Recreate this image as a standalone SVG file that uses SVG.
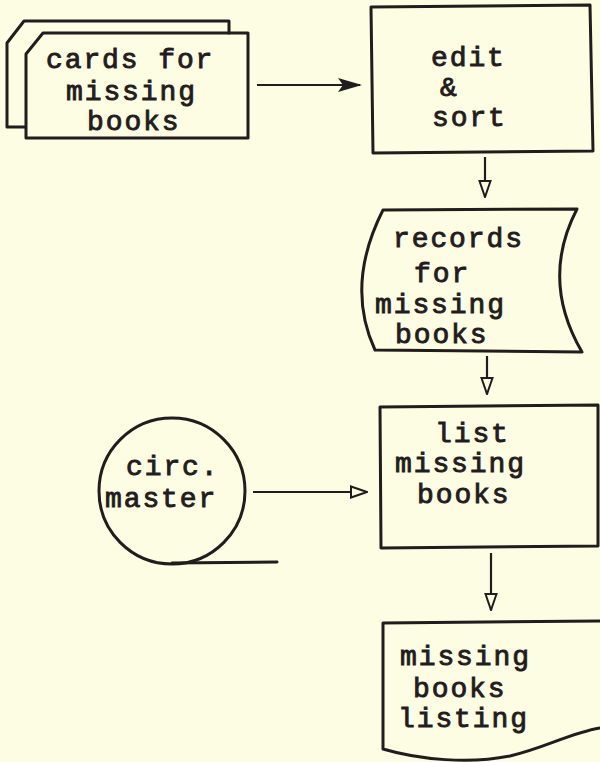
<svg xmlns="http://www.w3.org/2000/svg" width="600" height="762" viewBox="0 0 600 762">
<style>
.s{fill:none;stroke:#231c1c;stroke-width:3;stroke-linejoin:round;stroke-linecap:round}
.c{fill:none;stroke:#231c1c;stroke-width:2.2}
.t{font-family:"Liberation Mono","DejaVu Sans Mono",monospace;font-size:28px;letter-spacing:1.9px;fill:#231c1c;stroke:#231c1c;stroke-width:0.9px;font-weight:normal}
</style>
<defs>
<marker id="filled" viewBox="0 0 24 16" refX="22" refY="8" markerWidth="24" markerHeight="16" markerUnits="userSpaceOnUse" orient="auto">
<path d="M0,1 L24,8 L0,15 L5,8 Z" fill="#231c1c"/>
</marker>
<marker id="open" viewBox="0 0 18 14" refX="17" refY="7" markerWidth="18" markerHeight="14" markerUnits="userSpaceOnUse" orient="auto">
<path d="M1,1.5 L17,7 L1,12.5 Z" fill="#fdfde3" stroke="#231c1c" stroke-width="2"/>
</marker>
</defs>
<rect width="600" height="762" fill="#fdfde3"/>
<g id="cards">
<path class="s" d="M25,127 L7,127 L7,43 L24,21 L229,21 L229,33"/>
<path class="s" d="M26,54 L43,33 L248,33 L248,138 L26,138 Z"/>
<text class="t" x="46" y="68">cards for</text>
<text class="t" x="66" y="100">missing</text>
<text class="t" x="87" y="130">books</text>
</g>
<g id="edit">
<path class="s" d="M371,7 L590,5 L593,151 L373,153 Z"/>
<text class="t" x="431" y="66">edit</text>
<text class="t" x="440" y="96">&amp;</text>
<text class="t" x="432" y="126">sort</text>
</g>
<g id="records">
<path class="s" d="M383,210 L577,209 Q540,280 582,352 L375,350 Q345,285 383,210 Z"/>
<text class="t" x="393" y="247">records</text>
<text class="t" x="414" y="282">for</text>
<text class="t" x="375" y="313">missing</text>
<text class="t" x="395" y="343">books</text>
</g>
<g id="list">
<path class="s" d="M380,407 L598,405 L598,546 L381,548 Z"/>
<text class="t" x="435" y="442">list</text>
<text class="t" x="395" y="472">missing</text>
<text class="t" x="417" y="503">books</text>
</g>
<g id="circ">
<circle class="s" cx="172" cy="491" r="73"/>
<path class="s" d="M172,563 L277,562"/>
<text class="t" x="126" y="475">circ.</text>
<text class="t" x="105" y="507">master</text>
</g>
<g id="listing">
<path class="s" d="M600,621 L383,623 L383,749 C420,760 470,764 510,756 C545,748 570,733 600,728"/>
<text class="t" x="400" y="665">missing</text>
<text class="t" x="413" y="697">books</text>
<text class="t" x="398" y="727">listing</text>
</g>
<g id="connectors">
<line class="c" x1="257" y1="85" x2="360" y2="85" marker-end="url(#filled)"/>
<line class="c" x1="485" y1="157" x2="485" y2="197" marker-end="url(#open)"/>
<line class="c" x1="487" y1="356" x2="487" y2="394" marker-end="url(#open)"/>
<line class="c" x1="253" y1="492" x2="367" y2="492" marker-end="url(#open)"/>
<line class="c" x1="491" y1="553" x2="491" y2="610" marker-end="url(#open)"/>
</g>
</svg>
